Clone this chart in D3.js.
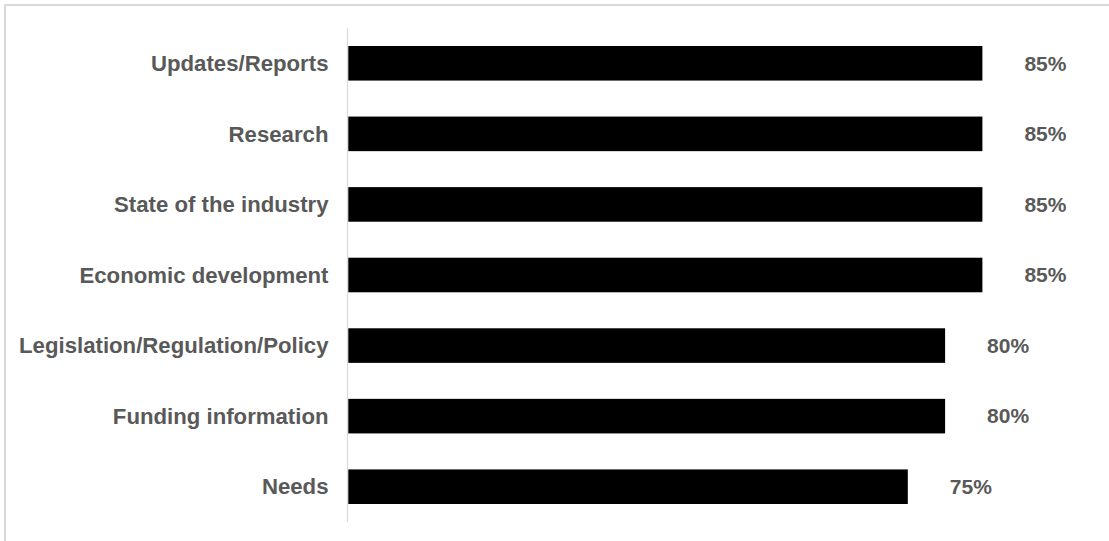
<!DOCTYPE html>
<html>
<head>
<meta charset="utf-8">
<script src="https://cdn.jsdelivr.net/npm/d3@7"></script>
<style>
  html, body { margin: 0; padding: 0; background: #fff; }
  svg { display: block; }
</style>
</head>
<body>
<svg id="chart" width="1109" height="541"></svg>
<script>
// Share of respondents interested in each topic
const categories = [
  "Updates/Reports",
  "Research",
  "State of the industry",
  "Economic development",
  "Legislation/Regulation/Policy",
  "Funding information",
  "Needs"
];
const values = [85, 85, 85, 85, 80, 80, 75];

const svg = d3.select("#chart");
const W = 1109, H = 541;

// frame edges (top and left)
svg.append("rect").attr("x", 4).attr("y", 4).attr("width", W).attr("height", 2).attr("fill", "#d9d9d9");
svg.append("rect").attr("x", 4).attr("y", 4).attr("width", 2).attr("height", H).attr("fill", "#d9d9d9");

const x = d3.scaleLinear().domain([0, 100]).range([348.3, 348.3 + 746]);
const y = d3.scaleBand().domain(categories).range([28, 522]).paddingInner(0.51).paddingOuter(0.255);

// vertical category axis line
svg.append("line")
  .attr("x1", 347.5).attr("x2", 347.5)
  .attr("y1", 28).attr("y2", 522)
  .attr("stroke", "#d9d9d9").attr("stroke-width", 1.2);

const data = categories.map((c, i) => ({ c, v: values[i] }));

svg.append("g").selectAll("rect").data(data).join("rect")
  .attr("x", x(0))
  .attr("y", d => y(d.c))
  .attr("width", d => x(d.v) - x(0))
  .attr("height", y.bandwidth())
  .attr("fill", "#000");

const font = "'Liberation Sans', Arial, sans-serif";

// category labels
svg.append("g").selectAll("text").data(data).join("text")
  .attr("x", 328.5)
  .attr("y", d => y(d.c) + y.bandwidth() / 2)
  .attr("dy", "0.35em")
  .attr("text-anchor", "end")
  .attr("font-family", font)
  .attr("font-weight", "bold")
  .attr("font-size", 22.2)
  .attr("fill", "#595959")
  .text(d => d.c);

// value labels
svg.append("g").selectAll("text").data(data).join("text")
  .attr("x", d => x(d.v) + 42)
  .attr("y", d => y(d.c) + y.bandwidth() / 2)
  .attr("dy", "0.35em")
  .attr("font-family", font)
  .attr("font-weight", "bold")
  .attr("font-size", 21)
  .attr("fill", "#595959")
  .text(d => d.v + "%");
</script>
</body>
</html>
